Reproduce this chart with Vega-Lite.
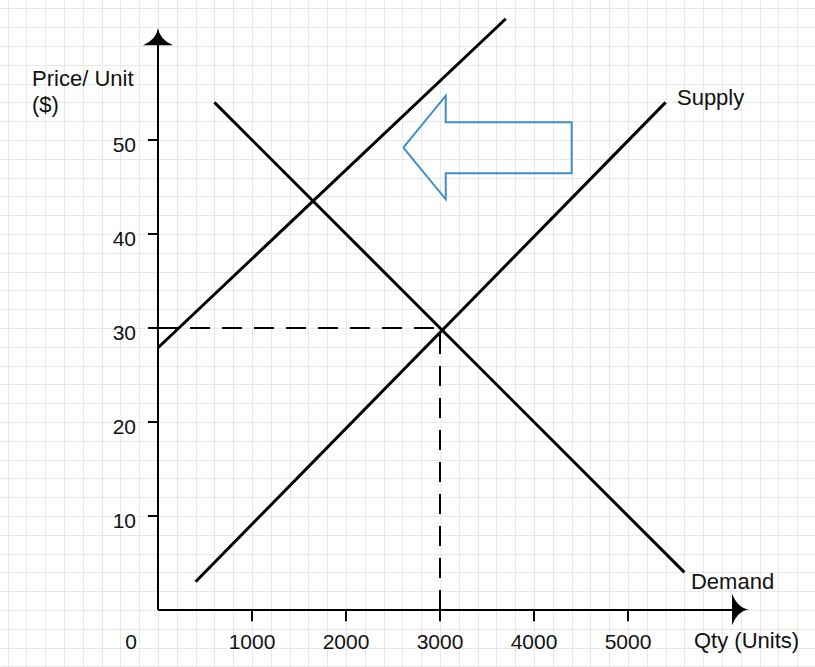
{
  "$schema": "https://vega.github.io/schema/vega-lite/v6.json",
  "width": 815,
  "height": 667,
  "padding": 0,
  "autosize": {"type": "none"},
  "background": "white",
  "config": {"view": {"stroke": null}, "text": {"font": "Liberation Sans", "color": "#111111"}},
  "datasets": {
    "curves": [
      {"name": "Supply", "i": 0, "q": 400, "p": 3},
      {"name": "Supply", "i": 1, "q": 5400, "p": 54},
      {"name": "Demand", "i": 0, "q": 600, "p": 54},
      {"name": "Demand", "i": 1, "q": 5600, "p": 4},
      {"name": "Supply2", "i": 0, "q": 0, "p": 27.9},
      {"name": "Supply2", "i": 1, "q": 3700, "p": 62.9}
    ],
    "shift": [
      {"i": 0, "q": 2610, "p": 49.18},
      {"i": 1, "q": 3061, "p": 54.71},
      {"i": 2, "q": 3061, "p": 51.88},
      {"i": 3, "q": 4401, "p": 51.88},
      {"i": 4, "q": 4401, "p": 46.46},
      {"i": 5, "q": 3061, "p": 46.46},
      {"i": 6, "q": 3061, "p": 43.69},
      {"i": 7, "q": 2610, "p": 49.18}
    ],
    "dashes": [
      {"q": 0, "q2": 3000, "p": 30, "p2": 30},
      {"q": 3000, "q2": 3000, "p": 0, "p2": 30}
    ],
    "axislines": [
      {"q": 0, "q2": 0, "p": 0, "p2": 60.3},
      {"q": 0, "q2": 6170, "p": 0, "p2": 0}
    ],
    "yticks": [{"p": 10}, {"p": 20}, {"p": 30}, {"p": 40}, {"p": 50}],
    "xticks": [{"q": 1000}, {"q": 2000}, {"q": 3000}, {"q": 4000}, {"q": 5000}],
    "notes": [
      {"text": ["Price/ Unit", "($)"], "q": -1340, "p": 55.74},
      {"text": "Qty (Units)", "q": 5702, "p": -4.04},
      {"text": "Supply", "q": 5521, "p": 53.72},
      {"text": "Demand", "q": 5670, "p": 2.23}
    ]
  },
  "layer": [
    {
      "data": {"name": "curves"},
      "mark": {"type": "line", "color": "black", "strokeWidth": 3, "strokeCap": "butt"},
      "encoding": {
        "x": {
          "field": "q", "type": "quantitative",
          "scale": {"domain": [-1680.85, 6989.36], "nice": false, "zero": false},
          "axis": {
            "values": [-1600,-1400,-1200,-1000,-800,-600,-400,-200,0,200,400,600,800,1000,1200,1400,1600,1800,2000,2200,2400,2600,2800,3000,3200,3400,3600,3800,4000,4200,4400,4600,4800,5000,5200,5400,5600,5800,6000,6200,6400,6600,6800],
            "tickCount": 200,
            "grid": true, "labels": false, "ticks": false, "domain": false, "title": null,
            "gridColor": "#e8e8e8", "gridWidth": 1
          }
        },
        "y": {
          "field": "p", "type": "quantitative",
          "scale": {"domain": [-6.064, 64.894], "nice": false, "zero": false},
          "axis": {
            "values": [-6,-4,-2,0,2,4,6,8,10,12,14,16,18,20,22,24,26,28,30,32,34,36,38,40,42,44,46,48,50,52,54,56,58,60,62,64],
            "tickCount": 200,
            "grid": true, "labels": false, "ticks": false, "domain": false, "title": null,
            "gridColor": "#e8e8e8", "gridWidth": 1
          }
        },
        "detail": {"field": "name"},
        "order": {"field": "i"}
      }
    },
    {
      "data": {"name": "dashes"},
      "mark": {"type": "rule", "color": "black", "strokeWidth": 2, "strokeDash": [20, 12]},
      "encoding": {
        "x": {"field": "q", "type": "quantitative"},
        "x2": {"field": "q2"},
        "y": {"field": "p", "type": "quantitative"},
        "y2": {"field": "p2"}
      }
    },
    {
      "data": {"name": "axislines"},
      "mark": {"type": "rule", "color": "black", "strokeWidth": 2},
      "encoding": {
        "x": {"field": "q", "type": "quantitative"},
        "x2": {"field": "q2"},
        "y": {"field": "p", "type": "quantitative"},
        "y2": {"field": "p2"}
      }
    },
    {
      "data": {"values": [{"a": "y"}]},
      "mark": {"type": "point", "filled": true, "color": "black", "opacity": 1, "size": 900,
               "shape": "M0,-0.57 Q0.1,0.2 1,0.57 L-1,0.57 Q-0.1,0.2 0,-0.57 Z"},
      "encoding": {"x": {"datum": 0, "type": "quantitative"}, "y": {"datum": 61.0, "type": "quantitative"}}
    },
    {
      "data": {"values": [{"a": "x"}]},
      "mark": {"type": "point", "filled": true, "color": "black", "opacity": 1, "size": 1024,
               "shape": "M0.53,0 Q-0.2,0.1 -0.53,1 L-0.53,-1 Q-0.2,-0.1 0.53,0 Z"},
      "encoding": {"x": {"datum": 6197, "type": "quantitative"}, "y": {"datum": 0.05, "type": "quantitative"}}
    },
    {
      "data": {"name": "yticks"},
      "mark": {"type": "rule", "color": "black", "strokeWidth": 2},
      "encoding": {
        "x": {"datum": -106, "type": "quantitative"},
        "x2": {"datum": 0},
        "y": {"field": "p", "type": "quantitative"}
      }
    },
    {
      "data": {"name": "xticks"},
      "mark": {"type": "rule", "color": "black", "strokeWidth": 2},
      "encoding": {
        "x": {"field": "q", "type": "quantitative"},
        "y": {"datum": 0, "type": "quantitative"},
        "y2": {"datum": -1.2}
      }
    },
    {
      "data": {"name": "yticks"},
      "mark": {"type": "text", "align": "right", "baseline": "alphabetic", "fontSize": 21, "dy": 12},
      "encoding": {
        "x": {"datum": -234, "type": "quantitative"},
        "y": {"field": "p", "type": "quantitative"},
        "text": {"field": "p", "type": "quantitative"}
      }
    },
    {
      "data": {"name": "xticks"},
      "mark": {"type": "text", "align": "center", "baseline": "alphabetic", "fontSize": 21},
      "encoding": {
        "x": {"field": "q", "type": "quantitative"},
        "y": {"datum": -4.15, "type": "quantitative"},
        "text": {"field": "q", "type": "quantitative", "format": "d"}
      }
    },
    {
      "data": {"values": [{"label": "0"}]},
      "mark": {"type": "text", "align": "center", "baseline": "alphabetic", "fontSize": 21},
      "encoding": {
        "x": {"datum": -287, "type": "quantitative"},
        "y": {"datum": -4.15, "type": "quantitative"},
        "text": {"field": "label"}
      }
    },
    {
      "data": {"name": "notes"},
      "mark": {"type": "text", "align": "left", "baseline": "alphabetic", "fontSize": 22, "lineHeight": 26},
      "encoding": {
        "x": {"field": "q", "type": "quantitative"},
        "y": {"field": "p", "type": "quantitative"},
        "text": {"field": "text"}
      }
    },
    {
      "data": {"name": "shift"},
      "mark": {"type": "line", "color": "#3d8ec9", "strokeWidth": 2, "strokeJoin": "miter"},
      "encoding": {
        "x": {"field": "q", "type": "quantitative"},
        "y": {"field": "p", "type": "quantitative"},
        "order": {"field": "i"}
      }
    }
  ]
}
